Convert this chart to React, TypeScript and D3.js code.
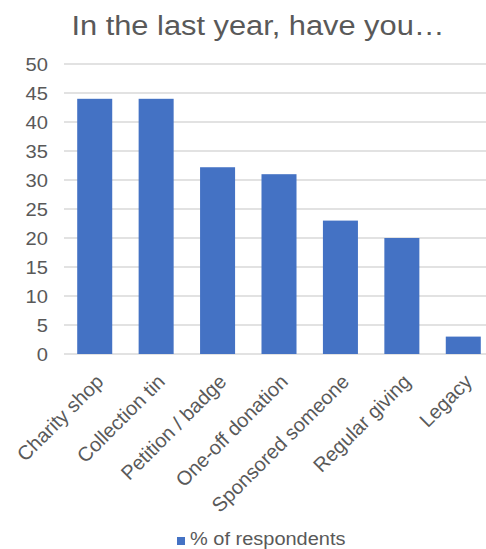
import React from "react";
import * as d3 from "d3";

const categories = ["Charity shop", "Collection tin", "Petition / badge", "One-off donation", "Sponsored someone", "Regular giving", "Legacy"];
const values = [44, 44, 32.2, 31, 23, 20, 3];
const yTicks = [0, 5, 10, 15, 20, 25, 30, 35, 40, 45, 50];
const title = "In the last year, have you…";
const seriesName = "% of respondents";

export default function App() {
  const W = 486, H = 549;
  const x = d3.scaleBand<string>().domain(categories).range([64, 494]).paddingInner(0.43).paddingOuter(0.215);
  const y = d3.scaleLinear().domain([0, 50]).range([354, 64]);
  const font = "Liberation Sans, Arial, sans-serif";
  const txt = "#595959";
  return (
    <svg width={W} height={H} style={{ position: "absolute", left: 0, top: 0, background: "#fff" }} fontFamily={font}>
      <text transform={`translate(258,35) scale(1.1,1)`} textAnchor="middle" fontSize={28} fill={txt}>{title}</text>
      {yTicks.map(t => (
        <g key={t}>
          <line x1={64} x2={486} y1={y(t)} y2={y(t)} stroke="#d9d9d9" strokeWidth={1.3} />
          <text transform={`translate(48,${y(t)}) scale(1.15,1)`} dy="0.4em" textAnchor="end" fontSize={17.5} fill={txt}>{t}</text>
        </g>
      ))}
      {categories.map((c, i) => (
        <rect key={c} x={x(c)} y={y(values[i])} width={x.bandwidth()} height={y(0) - y(values[i])} fill="#4472C4" />
      ))}
      {categories.map(c => {
        const cx = (x(c) as number) + x.bandwidth() / 2 + 10;
        return (
          <text key={c} transform={`translate(${cx},383) rotate(-45)`} textAnchor="end" fontSize={20} fill={txt}>{c}</text>
        );
      })}
      <rect x={177} y={537} width={8} height={8} fill="#4472C4" />
      <text transform={`translate(190,545) scale(1.08,1)`} fontSize={18.5} fill={txt}>{seriesName}</text>
    </svg>
  );
}
